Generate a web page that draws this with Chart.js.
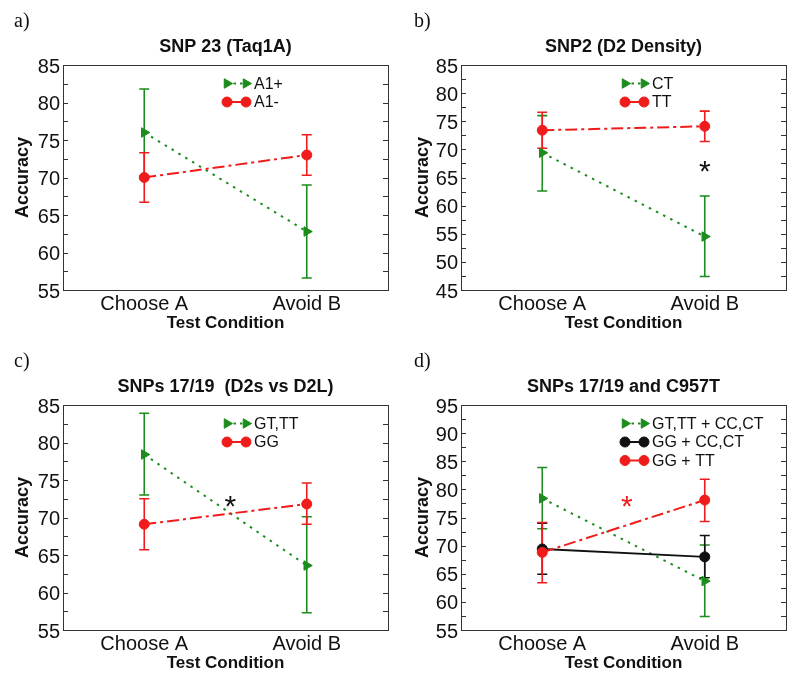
<!DOCTYPE html>
<html><head><meta charset="utf-8">
<script src="https://cdn.jsdelivr.net/npm/chart.js@4/dist/chart.umd.min.js"></script>
<style>
html,body{margin:0;padding:0;background:#fff;overflow:hidden;}
#wrap{position:relative;width:800px;height:679px;}
.p{position:absolute;width:400px;height:340px;}
</style></head><body>
<div id="wrap">
<div class="p" style="left:0;top:0"><canvas id="ca" width="400" height="340"></canvas></div>
<div class="p" style="left:400px;top:0"><canvas id="cb" width="400" height="340"></canvas></div>
<div class="p" style="left:0;top:340px"><canvas id="cc" width="400" height="340"></canvas></div>
<div class="p" style="left:400px;top:340px"><canvas id="cd" width="400" height="340"></canvas></div>
</div>
<script>
// ---------- DATA ----------
const categories = ['Choose A', 'Avoid B'];

// Panel a) SNP 23 (Taq1A)
const aYTicks = [55, 60, 65, 70, 75, 80, 85];
const aA1plus = [76.0, 62.8];
const aA1plusLow = [70.2, 56.6];
const aA1plusHigh = [81.8, 69.0];
const aA1minus = [70.0, 73.0];
const aA1minusLow = [66.7, 70.3];
const aA1minusHigh = [73.3, 75.7];

// Panel b) SNP2 (D2 Density)
const bYTicks = [45, 50, 55, 60, 65, 70, 75, 80, 85];
const bCT = [69.4, 54.5];
const bCTLow = [62.6, 47.4];
const bCTHigh = [76.0, 61.7];
const bTT = [73.4, 74.1];
const bTTLow = [70.2, 71.4];
const bTTHigh = [76.6, 76.8];
const bStar = [1, 66.9];

// Panel c) SNPs 17/19 (D2s vs D2L)
const cYTicks = [55, 60, 65, 70, 75, 80, 85];
const cGTTT = [78.4, 63.6];
const cGTTTLow = [73.0, 57.3];
const cGTTTHigh = [83.9, 70.1];
const cGG = [69.1, 71.8];
const cGGLow = [65.7, 69.1];
const cGGHigh = [72.5, 74.6];
const cStar = [0.53, 72.2];

// Panel d) SNPs 17/19 and C957T
const dYTicks = [55, 60, 65, 70, 75, 80, 85, 90, 95];
const dGTTTCC = [78.4, 63.7];
const dGTTTCCLow = [73.0, 57.4];
const dGTTTCCHigh = [83.9, 70.1];
const dGGCC = [69.4, 68.0];
const dGGCCLow = [64.9, 64.3];
const dGGCCHigh = [74.0, 71.8];
const dGGTT = [68.8, 78.1];
const dGGTTLow = [63.4, 74.3];
const dGGTTHigh = [74.1, 81.8];
const dStar = [0.52, 77.9];

// ---------- STYLES ----------
const GREEN = '#1d8c1d', RED = '#f01c1c', BLACK = '#111111';
const SANS = '"Liberation Sans", Arial, sans-serif';
const greenStyle = {borderColor: GREEN, backgroundColor: GREEN, borderDash: [2.5, 5.5], borderWidth: 2,
  pointStyle: 'triangle', pointRotation: 90, pointRadius: 5.5, order: 2};
const redStyle = {borderColor: RED, backgroundColor: RED, borderDash: [12, 4, 3, 4], borderWidth: 2,
  pointStyle: 'circle', pointRotation: 0, pointRadius: 5, order: 0};
const blackStyle = {borderColor: BLACK, backgroundColor: BLACK, borderDash: [], borderWidth: 2,
  pointStyle: 'circle', pointRotation: 0, pointRadius: 5, order: 1};

function series(label, data, low, high, style) {
  return Object.assign({label, data, errLow: low, errHigh: high, fill: false, tension: 0,
    pointBorderColor: style.borderColor, pointBackgroundColor: style.backgroundColor, pointBorderWidth: 1}, style);
}

const panelPlugin = {
  id: 'panel',
  beforeDatasetsDraw(chart) {
    const ctx = chart.ctx, ys = chart.scales.y;
    chart.data.datasets.forEach((ds, i) => {
      const meta = chart.getDatasetMeta(i);
      ctx.save();
      ctx.strokeStyle = ds.borderColor; ctx.lineWidth = 1.6; ctx.setLineDash([]);
      meta.data.forEach((pt, j) => {
        const x = pt.x, y1 = ys.getPixelForValue(ds.errLow[j]), y2 = ys.getPixelForValue(ds.errHigh[j]);
        ctx.beginPath();
        ctx.moveTo(x, y1); ctx.lineTo(x, y2);
        ctx.moveTo(x - 5, y1); ctx.lineTo(x + 5, y1);
        ctx.moveTo(x - 5, y2); ctx.lineTo(x + 5, y2);
        ctx.stroke();
      });
      ctx.restore();
    });
  },
  afterDraw(chart, args, opts) {
    const ctx = chart.ctx, a = chart.chartArea, ys = chart.scales.y, xs = chart.scales.x;
    ctx.save();
    // box
    ctx.strokeStyle = '#333'; ctx.lineWidth = 1; ctx.setLineDash([]);
    ctx.strokeRect(Math.round(a.left) + 0.5, Math.round(a.top) + 0.5, Math.round(a.right - a.left), Math.round(a.bottom - a.top));
    // inward ticks every 2.5
    const mn = ys.min, mx = ys.max;
    ctx.beginPath();
    for (let v = mn + 2.5; v < mx - 0.01; v += 2.5) {
      const y = Math.round(ys.getPixelForValue(v)) + 0.5;
      ctx.moveTo(a.left, y); ctx.lineTo(a.left + 5, y);
      ctx.moveTo(a.right, y); ctx.lineTo(a.right - 5, y);
    }
    ctx.stroke();
    // title
    ctx.fillStyle = '#111';
    ctx.font = 'bold 18px ' + SANS;
    ctx.textAlign = 'center'; ctx.textBaseline = 'middle';
    ctx.fillText(opts.title, (a.left + a.right) / 2, 47);
    // panel label
    ctx.font = '20px "Liberation Serif", "Times New Roman", serif';
    ctx.textAlign = 'left';
    ctx.fillText(opts.tag, 14, 22);
    // legend
    ctx.font = '16px ' + SANS;
    chart.data.datasets.forEach((ds, i) => {
      const y = a.top + 18.5 + i * 18.5;
      const x1 = a.left + 164, x2 = a.left + 183;
      ctx.save();
      ctx.strokeStyle = ds.borderColor; ctx.lineWidth = 2; ctx.setLineDash(ds.borderDash.length ? [2.5, 4] : []);
      if (ds.pointStyle === 'circle' && ds.borderDash.length) ctx.setLineDash([]);
      ctx.beginPath(); ctx.moveTo(x1, y); ctx.lineTo(x2, y); ctx.stroke();
      ctx.setLineDash([]);
      ctx.fillStyle = ds.backgroundColor; ctx.strokeStyle = ds.borderColor; ctx.lineWidth = 1;
      [x1, x2].forEach(x => Chart.helpers.drawPoint(ctx, {pointStyle: ds.pointStyle, radius: ds.pointRadius, rotation: ds.pointRotation, borderWidth: 1}, x, y));
      ctx.restore();
      ctx.fillStyle = '#111'; ctx.textBaseline = 'middle'; ctx.textAlign = 'left';
      ctx.fillText(ds.label, a.left + 191, y + 1);
    });
    // significance star
    if (opts.star) {
      ctx.font = '30px ' + SANS;
      ctx.fillStyle = opts.starColor || '#111';
      ctx.textAlign = 'center'; ctx.textBaseline = 'alphabetic';
      const m = ctx.measureText('*');
      const px = xs.getPixelForValue(opts.star[0]);
      const py = ys.getPixelForValue(opts.star[1]);
      ctx.fillText('*', px, py + (m.actualBoundingBoxAscent - m.actualBoundingBoxDescent) / 2);
    }
    ctx.restore();
  }
};

function makeChart(id, tag, title, yTicks, datasets, plotLeft, plotRight, star, starColor) {
  new Chart(document.getElementById(id), {
    type: 'line',
    data: {labels: categories, datasets},
    options: {
      responsive: false, animation: false, devicePixelRatio: 1,
      layout: {padding: {left: 0, top: 65, right: 400 - plotRight, bottom: 0}},
      plugins: {legend: {display: false}, tooltip: {enabled: false},
        panel: {tag, title, star, starColor}},
      scales: {
        x: {
          type: 'category', offset: true,
          grid: {display: false, drawTicks: false}, border: {display: false},
          ticks: {font: {size: 20, family: SANS}, color: '#111', padding: 2, maxRotation: 0},
          title: {display: true, text: 'Test Condition', font: {size: 17, weight: 'bold', family: SANS}, color: '#111', padding: {top: 0, bottom: 6}},
          afterFit: s => { s.height = 50; }
        },
        y: {
          min: yTicks[0], max: yTicks[yTicks.length - 1],
          grid: {display: false, drawTicks: false}, border: {display: false},
          ticks: {stepSize: yTicks[1] - yTicks[0], font: {size: 20, family: SANS}, color: '#111', padding: 3, labelOffset: 2},
          title: {display: true, text: 'Accuracy', font: {size: 18, weight: 'bold', family: SANS}, color: '#111', padding: {top: 12, bottom: 0}},
          afterFit: s => { s.width = plotLeft; }
        }
      }
    },
    plugins: [panelPlugin]
  });
}

makeChart('ca', 'a)', 'SNP 23 (Taq1A)', aYTicks, [
  series('A1+', aA1plus, aA1plusLow, aA1plusHigh, greenStyle),
  series('A1-', aA1minus, aA1minusLow, aA1minusHigh, redStyle)
], 63, 388, null);

makeChart('cb', 'b)', 'SNP2 (D2 Density)', bYTicks, [
  series('CT', bCT, bCTLow, bCTHigh, greenStyle),
  series('TT', bTT, bTTLow, bTTHigh, redStyle)
], 61, 386, bStar, '#111');

makeChart('cc', 'c)', 'SNPs 17/19  (D2s vs D2L)', cYTicks, [
  series('GT,TT', cGTTT, cGTTTLow, cGTTTHigh, greenStyle),
  series('GG', cGG, cGGLow, cGGHigh, redStyle)
], 63, 388, cStar, '#111');

makeChart('cd', 'd)', 'SNPs 17/19 and C957T', dYTicks, [
  series('GT,TT + CC,CT', dGTTTCC, dGTTTCCLow, dGTTTCCHigh, greenStyle),
  series('GG + CC,CT', dGGCC, dGGCCLow, dGGCCHigh, blackStyle),
  series('GG + TT', dGGTT, dGGTTLow, dGGTTHigh, redStyle)
], 61, 386, dStar, RED);
</script>
</body></html>
